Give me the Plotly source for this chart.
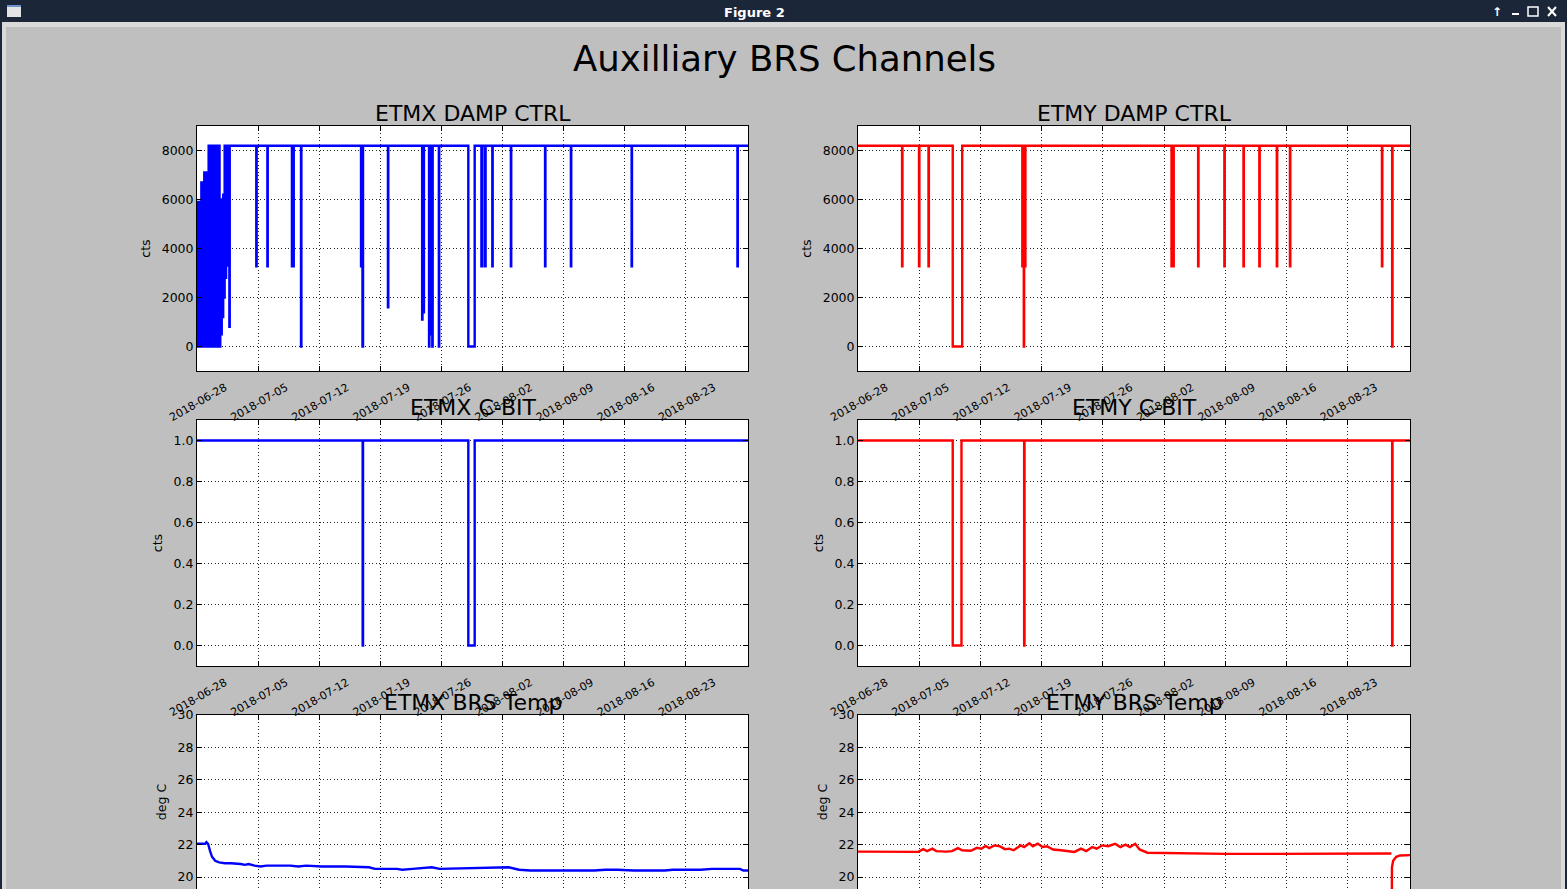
import pandas as pd
import plotly.graph_objects as go

# ---------------- Daten ----------------
start = pd.Timestamp("2018-06-28")
x_range = ["2018-06-28 00:00", "2018-08-30 03:00"]
xtick_dates = ["2018-06-28", "2018-07-05", "2018-07-12", "2018-07-19", "2018-07-26",
               "2018-08-02", "2018-08-09", "2018-08-16", "2018-08-23"]

# ETMX DAMP CTRL: Anfangs-Oszillation (Stunden ab Start) + Stufen danach
etmx_damp_burst_hr = [0, 2, 4, 6, 8, 10, 12, 14, 16, 18, 20, 22, 24, 26, 28, 30,
                      32, 34, 36, 38, 40, 42, 44, 46, 48, 50, 52, 54, 56, 58, 60, 62,
                      64, 66, 68, 70, 72, 74, 76, 78, 80, 82, 84, 86, 88, 89, 90]
etmx_damp_burst_val = [5900, 0, 5900, 600, 5900, 0, 6700, 0, 6700, 0, 7100, 0, 5800, 0, 7100, 0,
                       8192, 0, 8192, 0, 8192, 0, 8192, 0, 8192, 0, 8192, 0, 8192, 0, 8192, 0,
                       6000, 500, 6000, 1200, 6200, 2000, 8192, 2800, 8192, 3300, 8192, 4500, 8192, 800, 8192]

etmx_damp_t = ["2018-07-01 20:00",
               "2018-07-04 19:00", "2018-07-04 20:00", "2018-07-06 01:30", "2018-07-06 02:30",
               "2018-07-08 21:00", "2018-07-08 22:00", "2018-07-09 01:00", "2018-07-09 02:00",
               "2018-07-09 22:00", "2018-07-09 23:00",
               "2018-07-16 19:00", "2018-07-16 20:00", "2018-07-16 23:00", "2018-07-17 00:30",
               "2018-07-19 21:00", "2018-07-19 22:00",
               "2018-07-23 19:00", "2018-07-23 20:00", "2018-07-23 23:00", "2018-07-24 00:00",
               "2018-07-24 14:00", "2018-07-24 15:00", "2018-07-24 18:00", "2018-07-24 19:00",
               "2018-07-24 23:00", "2018-07-25 00:00", "2018-07-25 17:00", "2018-07-25 18:00",
               "2018-07-29 02:00", "2018-07-29 19:30",
               "2018-07-30 14:00", "2018-07-30 16:00", "2018-07-30 23:30", "2018-07-31 01:30",
               "2018-07-31 20:00", "2018-07-31 21:00", "2018-08-02 23:00", "2018-08-03 00:00",
               "2018-08-06 21:00", "2018-08-06 22:00", "2018-08-09 20:00", "2018-08-09 21:00",
               "2018-08-16 19:00", "2018-08-16 20:00", "2018-08-28 22:00", "2018-08-28 23:00",
               "2018-08-30 03:00"]
etmx_damp_v = [8192,
               3277, 8192, 3277, 8192,
               3277, 8192, 3277, 8192,
               0, 8192,
               3277, 8192, 0, 8192,
               1600, 8192,
               1100, 8192, 1400, 8192,
               0, 8192, 500, 8192,
               0, 8192, 0, 8192,
               0, 8192,
               3277, 8192, 3277, 8192,
               3277, 8192, 3277, 8192,
               3277, 8192, 3277, 8192,
               3277, 8192, 3277, 8192,
               8192]

etmy_damp_t = ["2018-06-28 00:00",
               "2018-07-03 01:00", "2018-07-03 02:00", "2018-07-04 23:30", "2018-07-05 00:30",
               "2018-07-06 01:30", "2018-07-06 02:30", "2018-07-08 20:00", "2018-07-09 22:00",
               "2018-07-16 19:00", "2018-07-16 20:00", "2018-07-16 22:00", "2018-07-16 23:00",
               "2018-07-17 00:00", "2018-07-17 02:30", "2018-07-17 03:30",
               "2018-08-02 20:30", "2018-08-02 21:30", "2018-08-03 01:30", "2018-08-03 02:30",
               "2018-08-05 21:30", "2018-08-05 22:30", "2018-08-08 21:30", "2018-08-08 22:30",
               "2018-08-11 02:00", "2018-08-11 03:00", "2018-08-12 21:30", "2018-08-12 22:30",
               "2018-08-14 21:30", "2018-08-14 22:30", "2018-08-16 09:30", "2018-08-16 10:30",
               "2018-08-26 22:00", "2018-08-26 23:00", "2018-08-28 02:00", "2018-08-28 03:00",
               "2018-08-30 03:00"]
etmy_damp_v = [8192,
               3277, 8192, 3277, 8192,
               3277, 8192, 0, 8192,
               3277, 8192, 3277, 0,
               8192, 3277, 8192,
               3277, 8192, 3277, 8192,
               3277, 8192, 3277, 8192,
               3277, 8192, 3277, 8192,
               3277, 8192, 3277, 8192,
               3277, 8192, 0, 8192,
               8192]

# C-BIT
etmx_cbit_t = ["2018-06-28 00:00", "2018-07-16 23:30", "2018-07-17 00:30",
               "2018-07-29 02:00", "2018-07-29 19:30", "2018-08-30 03:00"]
etmx_cbit_v = [1, 0, 1, 0, 1, 1]
etmy_cbit_t = ["2018-06-28 00:00", "2018-07-08 20:00", "2018-07-09 20:00",
               "2018-07-17 00:00", "2018-07-17 01:00", "2018-08-28 02:00",
               "2018-08-28 03:00", "2018-08-30 03:00"]
etmy_cbit_v = [1, 0, 1, 0, 1, 0, 1, 1]

# BRS Temp (Tage ab Start)
etmx_temp_day = [0.0, 0.95, 1.08, 1.27, 1.5, 1.72, 2.08, 2.53, 3.2, 3.9, 5.0, 5.5, 5.9,
                 6.6, 7.3, 7.95, 8.86, 10.7, 11.6, 12.5, 14.3, 17.0, 19.7, 20.4, 22.9,
                 23.5, 24.7, 25.8, 26.9, 27.8, 32.8, 34.6, 35.7, 36.9, 38.2, 45.5, 46.8,
                 48.2, 50.0, 53.6, 54.5, 57.7, 59.0, 62.2, 62.6, 63.2]
etmx_temp_val = [22.05, 22.05, 22.15, 22.05, 21.6, 21.25, 21.0, 20.9, 20.85, 20.85, 20.8,
                 20.75, 20.8, 20.7, 20.65, 20.7, 20.7, 20.7, 20.65, 20.7, 20.65, 20.65,
                 20.6, 20.5, 20.5, 20.45, 20.5, 20.55, 20.6, 20.5, 20.55, 20.55, 20.6,
                 20.45, 20.4, 20.4, 20.45, 20.45, 20.4, 20.4, 20.45, 20.45, 20.5, 20.5,
                 20.4, 20.4]

etmy_temp_day = [0.0, 6.9, 7.45, 7.9, 8.5, 8.95, 10.1, 10.75, 11.43, 11.9, 12.9, 13.6,
                 14.1, 14.6, 15.0, 15.6, 16.2, 16.8, 17.3, 17.8, 18.6, 19.0, 19.6, 20.0,
                 20.55, 21.1, 21.6, 22.3, 23.2, 24.1, 24.75, 25.5, 26.1, 26.8, 27.3, 27.9,
                 28.6, 29.4, 30.0, 30.6, 31.1, 31.7, 32.2, 33.1, 34.9, 38.5, 42.1, 47.6,
                 52.1, 61.0, 61.01, 61.04, 61.06, 61.2, 61.55, 62.0, 63.2]
etmy_temp_val = [21.57, 21.55, 21.72, 21.6, 21.75, 21.6, 21.57, 21.6, 21.78, 21.65, 21.62,
                 21.8, 21.75, 21.92, 21.78, 21.95, 21.9, 21.72, 21.75, 21.65, 21.95, 21.85,
                 22.08, 21.9, 22.06, 21.85, 21.9, 21.7, 21.65, 21.6, 21.55, 21.75, 21.6,
                 21.85, 21.75, 21.95, 21.9, 22.05, 21.85, 22.0, 21.85, 22.05, 21.7, 21.5,
                 21.48, 21.47, 21.43, 21.43, 21.45, 21.45, None, 15.0, 20.6, 21.0, 21.25,
                 21.33, 21.35]

panel_titles = ["ETMX DAMP CTRL", "ETMY DAMP CTRL", "ETMX C-BIT", "ETMY C-BIT",
                "ETMX BRS Temp", "ETMY BRS Temp"]

# ---------------- Zeitachsen ----------------
burst_t = start + pd.to_timedelta(etmx_damp_burst_hr, unit="h")
etmx_damp_x = list(burst_t) + list(pd.to_datetime(etmx_damp_t))
etmx_damp_y = etmx_damp_burst_val + etmx_damp_v
etmx_temp_t = start + pd.to_timedelta(etmx_temp_day, unit="D")
etmy_temp_t = start + pd.to_timedelta(etmy_temp_day, unit="D")

W, H = 1567, 889
FONT = "DejaVu Sans"
BLUE, RED = "#0000ff", "#ff0000"
LW = 2.4

fig = go.Figure()
fig.add_trace(go.Scatter(x=etmx_damp_x, y=etmx_damp_y, mode="lines", line=dict(color=BLUE, width=LW, shape="hv"),
                         xaxis="x", yaxis="y"))
fig.add_trace(go.Scatter(x=etmy_damp_t, y=etmy_damp_v, mode="lines", line=dict(color=RED, width=LW, shape="hv"),
                         xaxis="x2", yaxis="y2"))
fig.add_trace(go.Scatter(x=etmx_cbit_t, y=etmx_cbit_v, mode="lines", line=dict(color=BLUE, width=LW, shape="hv"),
                         xaxis="x3", yaxis="y3"))
fig.add_trace(go.Scatter(x=etmy_cbit_t, y=etmy_cbit_v, mode="lines", line=dict(color=RED, width=LW, shape="hv"),
                         xaxis="x4", yaxis="y4"))
fig.add_trace(go.Scatter(x=etmx_temp_t, y=etmx_temp_val, mode="lines", line=dict(color=BLUE, width=LW),
                         xaxis="x5", yaxis="y5"))
fig.add_trace(go.Scatter(x=etmy_temp_t, y=etmy_temp_val, mode="lines", line=dict(color=RED, width=LW),
                         xaxis="x6", yaxis="y6", connectgaps=False))

# Pixel-Positionen der Achsen
cols = [(197, 748), (858, 1410)]
rows = [(126, 371), (420, 666), (715, H)]


def dom_x(c):
    return [cols[c][0] / W, cols[c][1] / W]


def dom_y(r):
    return [1 - rows[r][1] / H, 1 - rows[r][0] / H]


common = dict(showline=True, linecolor="black", linewidth=1, ticks="inside", ticklen=5,
              tickcolor="black", showgrid=True, gridcolor="#222222", griddash="1px,2.5px",
              gridwidth=0.7, zeroline=False, automargin=False,
              tickfont=dict(size=12.5, color="black", family=FONT))

layout = {}
for i in range(6):
    r, c = i // 2, i % 2
    sx = "" if i == 0 else str(i + 1)
    xa = dict(common, domain=dom_x(c), anchor="y" + sx, type="date", range=x_range,
              tickmode="array", tickvals=xtick_dates, tickformat="%Y-%m-%d", tickangle=-30,
              mirror="allticks", ticklabelshift=28, ticklabelstandoff=5)
    xa["tickfont"] = dict(size=11, color="black", family=FONT)
    if r == 2:
        xa.update(side="top", mirror=False, showticklabels=False)
    ya = dict(common, domain=dom_y(r), anchor="x" + sx, mirror="allticks",
              title=dict(text="deg C" if r == 2 else "cts", font=dict(size=12.5, family=FONT, color="black"),
                         standoff=8))
    if r == 0:
        ya.update(range=[-1000, 9000], tick0=0, dtick=2000, tickformat="d")
    elif r == 1:
        ya.update(range=[-0.1, 1.1], tick0=0, dtick=0.2, tickformat=".1f")
    else:
        ya.update(range=[19.26, 30], tick0=0, dtick=2, tickformat="d")
    layout["xaxis" + sx] = xa
    layout["yaxis" + sx] = ya

annotations = []
for i, t in enumerate(panel_titles):
    r, c = i // 2, i % 2
    annotations.append(dict(text=t, x=sum(dom_x(c)) / 2, y=dom_y(r)[1], xref="paper", yref="paper",
                            xanchor="center", yanchor="bottom", yshift=-2, showarrow=False,
                            font=dict(size=22, family=FONT, color="black")))
annotations.append(dict(text="Auxilliary BRS Channels", x=784.5 / W, y=1 - 58 / H, xref="paper", yref="paper",
                        xanchor="center", yanchor="middle", showarrow=False,
                        font=dict(size=35.5, family=FONT, color="black")))
# Fensterleiste
annotations.append(dict(text="<b>Figure 2</b>", x=754 / W, y=1 - 12 / H, xref="paper", yref="paper",
                        xanchor="center", yanchor="middle", showarrow=False,
                        font=dict(size=13, family=FONT, color="white")))
annotations.append(dict(text="<b>↑</b>", x=1497 / W, y=1 - 12 / H, xref="paper", yref="paper",
                        xanchor="center", yanchor="middle", showarrow=False,
                        font=dict(size=12, family=FONT, color="white")))


def rect(x0, y0, x1, y1, fill=None, line=None, lw=0):
    return dict(type="rect", xref="paper", yref="paper", x0=x0 / W, x1=x1 / W, y0=1 - y1 / H, y1=1 - y0 / H,
                fillcolor=fill, line=dict(color=line or "rgba(0,0,0,0)", width=lw), layer="above")


def seg(x0, y0, x1, y1, color="white", lw=2):
    return dict(type="line", xref="paper", yref="paper", x0=x0 / W, x1=x1 / W, y0=1 - y0 / H, y1=1 - y1 / H,
                line=dict(color=color, width=lw), layer="above")


shapes = [
    rect(0, 0, W, 22, fill="#1b2739"),
    rect(0, 22, 2, H, fill="#1b2739"),
    rect(1565, 22, W, H, fill="#1b2739"),
    rect(2, 22, 6, H, fill="#d9d9d9"),
    rect(1561, 22, 1565, H, fill="#d9d9d9"),
    rect(2, 22, 1565, 27, fill="#d9d9d9"),
    rect(7, 5, 21, 17, fill="#e4e4e4"),
    rect(7, 5, 21, 7, fill="#6f94cc"),
    rect(1512, 13, 1519, 15, fill="white"),
    rect(1528, 7, 1538, 16, line="white", lw=1.5),
    seg(1548, 7, 1556, 16),
    seg(1548, 16, 1556, 7),
]

fig.update_layout(
    width=W, height=H, autosize=False,
    margin=dict(l=0, r=0, t=0, b=0, pad=0),
    paper_bgcolor="#bfbfbf", plot_bgcolor="white",
    showlegend=False,
    font=dict(family=FONT, color="black"),
    annotations=annotations, shapes=shapes,
    **layout
)

# Seitenrand des Browsers entfernen, damit die Figur bei (0, 0) beginnt
fig.write_html("out.html", config={"displayModeBar": False},
               post_script="document.body.style.margin='0';")
